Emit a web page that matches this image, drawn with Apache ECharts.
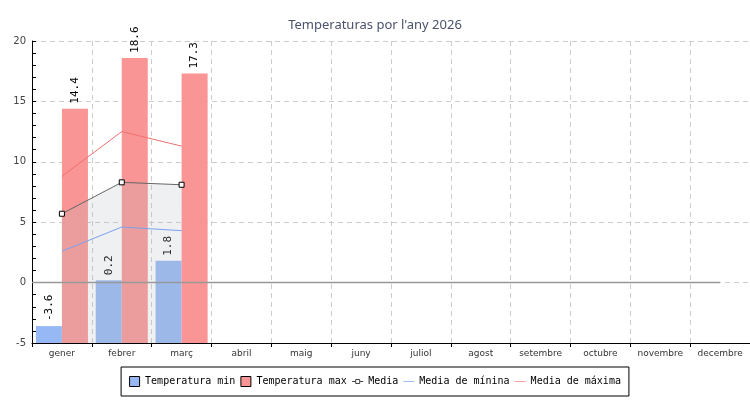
<!DOCTYPE html>
<html><head><meta charset="utf-8">
<script src="https://cdn.jsdelivr.net/npm/echarts@6/dist/echarts.min.js"></script>
<style>html,body{margin:0;padding:0;background:#fff}#c{width:750px;height:400px}</style>
</head><body><div id="c"></div>
<script>
const categories = ['gener','febrer','març','abril','maig','juny','juliol','agost','setembre','octubre','novembre','decembre'];
const tempMin = [-3.6, 0.2, 1.8];
const tempMax = [14.4, 18.6, 17.3];
const media = [5.7, 8.3, 8.1];
const mediaMin = [2.6, 4.6, 4.3];
const mediaMax = [8.8, 12.5, 11.3];
const yTicks = [-5, 0, 5, 10, 15, 20];
const legendNames = ['Temperatura min','Temperatura max','Media','Media de mínina','Media de máxima'];

const colMin = '#96b9f5', colMax = '#fa9595', colMedia = '#666', colMMin = '#7aa2f0', colMMax = '#f07070';
const chart = echarts.init(document.getElementById('c'));
const mono = 'DejaVu Sans Mono';
const barLabel = {
  show: true, position: 'top', rotate: 90, align: 'left', verticalAlign: 'middle',
  distance: 5, color: '#000', fontFamily: mono, fontSize: 11
};
const sq = 'path://M0,0L10,0L10,10L0,10Z';
const thin = 'path://M0,0L11,0L11,1L0,1Z';
chart.setOption({
  animation: false,
  title: { text: "Temperaturas por l'any 2026", left: 'center', top: 14,
    textStyle: { fontSize: 13, fontWeight: 'normal', color: '#4b526a', fontFamily: 'Noto Sans' } },
  grid: { left: 32, right: 0, top: 41, bottom: 57 },
  legend: {
    data: [
      { name: legendNames[0], icon: sq, itemStyle: { color: colMin, borderColor: '#000', borderWidth: 1 } },
      { name: legendNames[1], icon: sq, itemStyle: { color: colMax, borderColor: '#000', borderWidth: 1 } },
      { name: legendNames[2], icon: 'path://M0,5L3.5,5M3.5,3L7.5,3L7.5,7L3.5,7ZM7.5,5L11,5',
        itemStyle: { color: '#fff', borderColor: '#444', borderWidth: 1 } },
      { name: legendNames[3], icon: thin, itemStyle: { color: '#a3c0f5', borderWidth: 0 } },
      { name: legendNames[4], icon: thin, itemStyle: { color: '#f5a3a3', borderWidth: 0 } }
    ],
    bottom: 4, left: 'center', orient: 'horizontal',
    borderColor: '#000', borderWidth: 1, padding: [9, 8, 9, 8], itemGap: 5,
    itemWidth: 11, itemHeight: 10,
    textStyle: { fontFamily: mono, fontSize: 10, color: '#000' }
  },
  xAxis: [{
    type: 'category', data: categories,
    axisLine: { onZero: false, lineStyle: { color: '#000', width: 1 } },
    axisTick: { show: true, length: 4, lineStyle: { color: '#000' } },
    axisLabel: { fontSize: 9, color: '#333', fontFamily: 'DejaVu Sans', margin: 6 },
    splitLine: { show: true, lineStyle: { type: [5, 4], color: '#ccc' } }
  }, {
    type: 'value', show: false, min: 0, max: categories.length
  }],
  yAxis: {
    type: 'value', min: yTicks[0], max: yTicks[yTicks.length-1], interval: 5, startValue: yTicks[0],
    axisLine: { show: true, lineStyle: { color: '#000' } },
    axisTick: { show: true, inside: true, length: 4, lineStyle: { color: '#000' } },
    minorTick: { show: true, splitNumber: 5, length: 4, lineStyle: { color: '#000' } },
    axisLabel: { fontSize: 10, color: '#444', fontFamily: 'DejaVu Sans', margin: 6 },
    splitLine: { show: true, lineStyle: { type: [5, 4], color: '#ccc' } }
  },
  series: [
    { name: legendNames[0], type: 'bar', data: tempMin, barGap: '0%', barCategoryGap: '13%',
      itemStyle: { color: colMin }, label: barLabel },
    { name: legendNames[1], type: 'bar', data: tempMax,
      itemStyle: { color: colMax }, label: barLabel },
    { name: legendNames[2], type: 'line', data: media, symbol: 'rect', symbolSize: 5,
      lineStyle: { color: colMedia, width: 1 },
      itemStyle: { color: '#fff', borderColor: '#000', borderWidth: 1 },
      areaStyle: { origin: 'start', color: 'rgba(180,184,190,0.3)' } },
    { name: legendNames[3], type: 'line', data: mediaMin, symbol: 'none',
      lineStyle: { color: colMMin, width: 1 }, itemStyle: { color: colMMin } },
    { name: legendNames[4], type: 'line', data: mediaMax, symbol: 'none',
      lineStyle: { color: colMMax, width: 1 }, itemStyle: { color: colMMax } },
    { name: 'zero', type: 'line', xAxisIndex: 1, symbol: 'none', silent: true,
      data: [[0, 0], [categories.length - 0.5, 0]],
      lineStyle: { color: '#999', width: 1.5 } }
  ]
});
</script></body></html>
